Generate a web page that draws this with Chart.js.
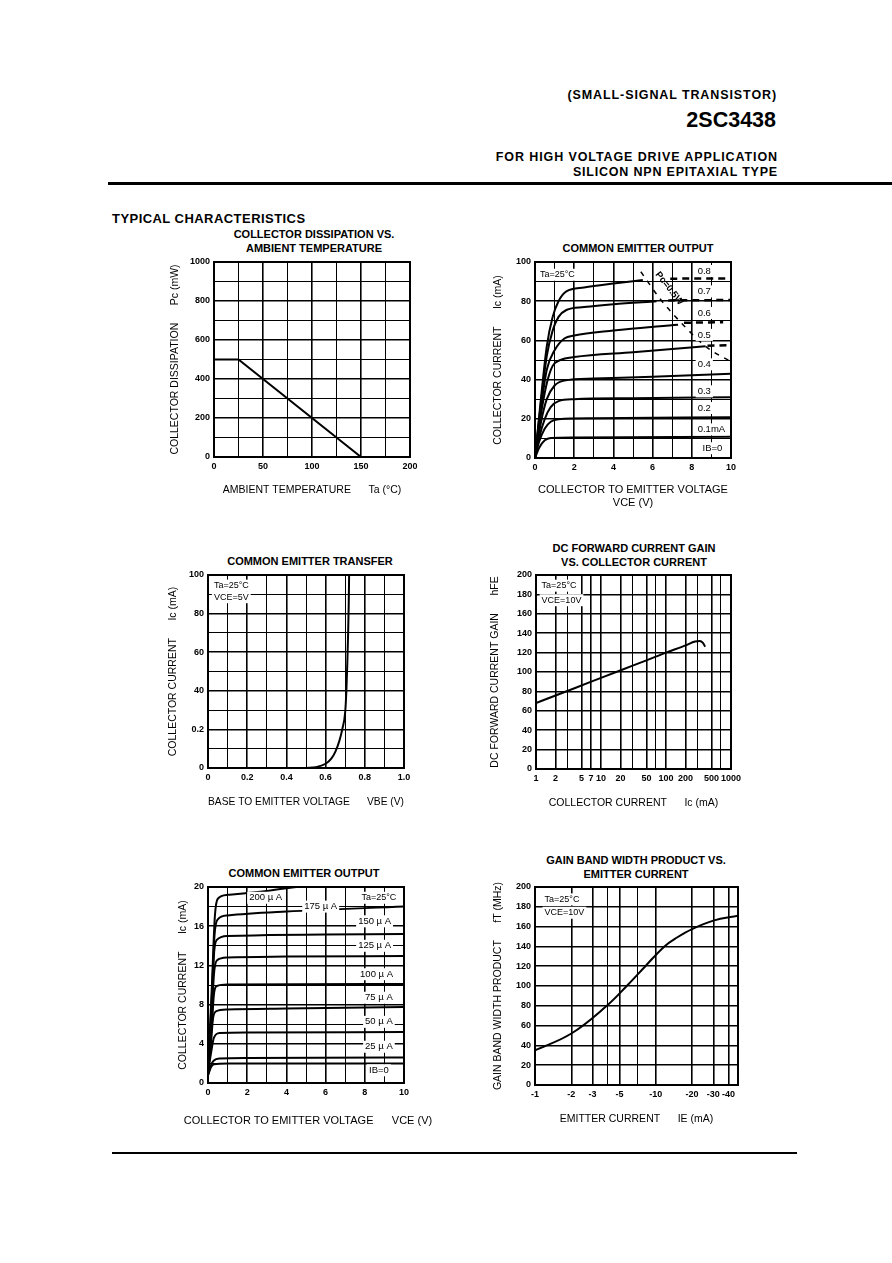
<!DOCTYPE html>
<html>
<head>
<meta charset="utf-8">
<script src="https://cdn.jsdelivr.net/npm/chart.js@4.4.1/dist/chart.umd.min.js"></script>
<style>
  body { margin: 0; background: #fff; width: 892px; height: 1263px; position: relative; overflow: hidden;
         font-family: "Liberation Sans", Arial, sans-serif; color: #000; }
  .t { position: absolute; white-space: pre; font-weight: bold; line-height: 1; }
  .c { text-align: center; width: 320px; }
  .n { font-weight: normal; }
  .rule { position: absolute; background: #000; }
  canvas { position: absolute; }
</style>
</head>
<body>
<div class="t" style="right:115px;top:89px;font-size:12.5px;letter-spacing:0.9px">(SMALL-SIGNAL TRANSISTOR)</div>
<div class="t" style="right:116px;top:110px;font-size:21.5px">2SC3438</div>
<div class="t" style="right:114px;top:151px;font-size:12.5px;letter-spacing:0.9px">FOR HIGH VOLTAGE DRIVE APPLICATION</div>
<div class="t" style="right:114px;top:166px;font-size:12.5px;letter-spacing:0.8px">SILICON NPN EPITAXIAL TYPE</div>
<div class="rule" style="left:108px;top:182px;width:784px;height:3px"></div>
<div class="t" style="left:112px;top:212px;font-size:13px;letter-spacing:0.45px">TYPICAL CHARACTERISTICS</div>

<div class="t c" style="left:154px;top:229px;font-size:11px">COLLECTOR DISSIPATION VS.</div>
<div class="t c" style="left:154px;top:243px;font-size:11px">AMBIENT TEMPERATURE</div>
<div class="t c" style="left:478px;top:243px;font-size:11px">COMMON EMITTER OUTPUT</div>
<div class="t c" style="left:150px;top:556px;font-size:11px">COMMON EMITTER TRANSFER</div>
<div class="t c" style="left:474px;top:543px;font-size:11px">DC FORWARD CURRENT GAIN</div>
<div class="t c" style="left:474px;top:557px;font-size:11px">VS. COLLECTOR CURRENT</div>
<div class="t c" style="left:144px;top:868px;font-size:11px">COMMON EMITTER OUTPUT</div>
<div class="t c" style="left:476px;top:855px;font-size:11px">GAIN BAND WIDTH PRODUCT VS.</div>
<div class="t c" style="left:476px;top:869px;font-size:11px">EMITTER CURRENT</div>

<canvas id="c1"></canvas>
<canvas id="c2"></canvas>
<canvas id="c3"></canvas>
<canvas id="c4"></canvas>
<canvas id="c5"></canvas>
<canvas id="c6"></canvas>

<div class="t c n" style="left:148px;top:1114.5px;font-size:11px">COLLECTOR TO EMITTER VOLTAGE      VCE (V)</div>

<div class="rule" style="left:112px;top:1152px;width:685px;height:2px"></div>

<script>
// --- collector dissipation vs ambient temperature
const ambTemp = [0, 25, 150];
const pcMax = [500, 500, 0];

// --- common emitter output, Ic (mA) vs Vce (V), one curve per IB
const ib01 = [[0, 0], [0.2, 5], [0.5, 9], [0.8, 10.2], [2, 10.5], [10, 10.8]];
const ib02 = [[0, 0], [0.2, 8], [0.5, 15], [0.8, 18.5], [1.2, 19.8], [3, 20.3], [10, 20.8]];
const ib03 = [[0, 0], [0.2, 10], [0.5, 20], [0.8, 26], [1.2, 29], [2, 30], [5, 30.5], [10, 31]];
const ib04 = [[0, 0], [0.3, 18], [0.6, 30], [1, 37], [1.5, 39.5], [3, 40.5], [6, 41.5], [10, 43]];
const ib05 = [[0, 0], [0.3, 22], [0.6, 38], [0.9, 47], [1.3, 50], [2, 51.5], [5, 54], [8.7, 57]];
const ib06 = [[0, 0], [0.3, 25], [0.6, 45], [1, 55], [1.5, 61], [2, 62.5], [4, 65], [7.3, 68]];
const ib07 = [[0, 0], [0.3, 28], [0.6, 52], [0.9, 65], [1.2, 72], [1.6, 75.5], [2.5, 77], [4, 78.5], [6.2, 80]];
const ib08 = [[0, 0], [0.3, 30], [0.6, 57], [0.9, 72], [1.2, 80], [1.6, 85], [2.5, 87], [4, 89], [5.5, 90.8]];
const ibDash = [
  [[6.9, 91.5], [10, 91.6]],
  [[6.8, 80.4], [10, 80.6]],
  [[7.6, 69], [9.6, 69.3]],
  [[8.8, 57.3], [10, 57.6]]
];
const pcLimit = [[5.4, 95], [6.4, 81], [7.6, 67.5], [8.7, 57], [10, 49]];
const ibLabels = ['0.8', '0.7', '0.6', '0.5', '0.4', '0.3', '0.2', '0.1mA', 'IB=0'];
const ibLabelIc = [95.4, 85, 74, 62.8, 47.8, 34, 25.5, 14.6, 5];

// --- common emitter transfer
const vbe = [0.5, 0.55, 0.6, 0.63, 0.65, 0.67, 0.685, 0.7, 0.706, 0.711, 0.715, 0.718, 0.72];
const icTransfer = [0, 0.4, 2.2, 5, 8.5, 14, 20, 29, 40, 55, 70, 85, 100];

// --- DC current gain vs collector current
const hfeIc = [1, 2, 4, 10, 30, 50, 100, 200, 280, 330, 370, 400];
const hfe = [68, 75.8, 83.5, 94, 106.3, 112, 120, 127.5, 131.5, 132, 130, 126];
const hfeGrid = [1, 2, 3, 5, 7, 10, 20, 30, 50, 70, 100, 200, 300, 500, 700, 1000];
const hfeTickLabels = [1, 2, 5, 7, 10, 20, 50, 100, 200, 500, 1000];

// --- common emitter output, low current
const uA0 = [[0, 0.8], [0.15, 1.6], [0.3, 1.9], [1, 2.0], [10, 2.0]];
const uA25 = [[0, 0.8], [0.15, 1.8], [0.3, 2.3], [0.6, 2.5], [2, 2.55], [10, 2.6]];
const uA50 = [[0, 1], [0.15, 3], [0.3, 4.6], [0.6, 5.1], [2, 5.15], [10, 5.2]];
const uA75 = [[0, 1], [0.15, 4], [0.25, 6.5], [0.4, 7.3], [1, 7.5], [4, 7.6], [10, 7.75]];
const uA100 = [[0, 1], [0.2, 6], [0.3, 9], [0.45, 9.9], [1, 10.05], [10, 10.1]];
const uA125 = [[0, 1], [0.2, 7], [0.3, 11], [0.45, 12.5], [1, 12.8], [4, 12.9], [10, 12.95]];
const uA150 = [[0, 1], [0.2, 8], [0.3, 13], [0.45, 14.6], [1, 15], [10, 15.2]];
const uA175 = [[0, 1], [0.2, 9], [0.33, 15], [0.5, 16.7], [1, 17.1], [4, 17.5], [10, 18]];
const uA200 = [[0, 1], [0.2, 10], [0.35, 17], [0.5, 18.8], [1, 19.2], [3, 19.6], [4.5, 20]];

// --- gain bandwidth product vs emitter current (|IE| in mA)
const ieAbs = [1, 2, 3.93, 5.75, 8.2, 11.8, 15, 20, 30, 48];
const ft = [35, 52, 80, 100, 120, 140, 149, 157.5, 166, 171];
const ieGrid = [1, 2, 3, 4, 5, 7, 10, 20, 30, 40, 48];
const ieTickLabels = [1, 2, 3, 5, 10, 20, 30, 40];

const FONT = "'Liberation Sans', Arial, sans-serif";
Chart.defaults.font.family = FONT;
Chart.defaults.color = '#000';
Chart.defaults.animation = false;

// black outline round the plot area
const frame = {
  id: 'frame',
  afterDraw(chart) {
    const { ctx, chartArea: a } = chart;
    ctx.save();
    ctx.strokeStyle = '#000';
    ctx.lineWidth = 2;
    ctx.strokeRect(a.left, a.top, a.right - a.left, a.bottom - a.top);
    ctx.restore();
  }
};

// text notes placed in data units
const notes = {
  id: 'notes',
  afterDatasetsDraw(chart, args, opts) {
    const items = opts.items || [];
    const { ctx, scales: { x, y } } = chart;
    items.forEach(n => {
      const px = x.getPixelForValue(n.x);
      const py = y.getPixelForValue(n.y);
      ctx.save();
      ctx.font = `${n.bold ? 'bold ' : ''}${n.size || 9.5}px ${FONT}`;
      ctx.textBaseline = 'middle';
      ctx.textAlign = n.align || 'left';
      ctx.translate(px, py);
      if (n.rot) ctx.rotate(n.rot * Math.PI / 180);
      if (n.box) {
        const w = ctx.measureText(n.text).width;
        const x0 = ctx.textAlign === 'left' ? -2 : -w / 2 - 2;
        ctx.fillStyle = '#fff';
        ctx.fillRect(x0, -6, w + 4, 12);
      }
      ctx.fillStyle = '#000';
      ctx.fillText(n.text, 0, 0);
      ctx.restore();
    });
  }
};
Chart.register(frame, notes);

const gridLine = {
  color: '#000',
  drawTicks: false,
  lineWidth: c => (c.tick && c.tick.label !== '' ? 1.6 : 1)
};
const tickFont = { size: 9, weight: 'bold' };
const titleFont = { size: 10.5, lineHeight: 1.25 };

function axis(opts, title) {
  return Object.assign({
    grid: gridLine,
    border: { display: true, color: '#000', width: 2 },
    ticks: { font: tickFont, padding: 4, autoSkip: false, maxRotation: 0 },
    title: { display: !!title, text: title, font: titleFont, padding: 0 }
  }, opts);
}

function line(points, extra) {
  return Object.assign({
    data: points.map(p => ({ x: p[0], y: p[1] })),
    borderColor: '#000',
    borderWidth: 2,
    pointRadius: 0,
    cubicInterpolationMode: 'monotone',
    fill: false
  }, extra);
}

// fix the plot rectangle on the page; axis titles sit at the canvas edges
function place(id, box, config) {
  const off = 6.5;
  const left = Math.round(box.yTitleX - off);
  const top = box.t - 12;
  const bottom = Math.round(box.xTitleY + off);
  const right = box.r + 24;
  const cv = document.getElementById(id);
  cv.width = right - left;
  cv.height = bottom - top;
  cv.style.left = left + 'px';
  cv.style.top = top + 'px';
  const lw = box.l - left;
  const bh = bottom - box.b;
  config.options.scales.x.afterFit = s => { s.height = bh; };
  config.options.scales.y.afterFit = s => { s.width = lw; };
  config.options.layout = { padding: { top: 12, right: 24, left: 0, bottom: 0 } };
  config.options.responsive = false;
  config.options.plugins = Object.assign({ legend: { display: false }, tooltip: { enabled: false } }, config.options.plugins);
  return new Chart(cv, config);
}

// 1. collector dissipation
place('c1', { l: 214, t: 262, r: 410, b: 457, yTitleX: 175, xTitleY: 490 }, {
  type: 'line',
  data: { datasets: [line(ambTemp.map((t, i) => [t, pcMax[i]]), { cubicInterpolationMode: 'default', tension: 0 })] },
  options: {
    scales: {
      x: axis({ type: 'linear', min: 0, max: 200,
        ticks: { font: tickFont, padding: 4, autoSkip: false, maxRotation: 0, stepSize: 25,
          callback: v => (v % 50 === 0 ? String(v) : '') } }, 'AMBIENT TEMPERATURE      Ta (\u00B0C)'),
      y: axis({ min: 0, max: 1000,
        ticks: { font: tickFont, padding: 4, autoSkip: false, stepSize: 100,
          callback: v => (v % 200 === 0 ? String(v) : '') } }, 'COLLECTOR DISSIPATION      Pc (mW)')
    }
  }
});

// 2. common emitter output
const ibCurves = [ib01, ib02, ib03, ib04, ib05, ib06, ib07, ib08];
const ibNotes = ibLabels.map((t, i) => ({ x: t === 'IB=0' ? 8.55 : 8.3, y: ibLabelIc[i], text: t, box: true, size: 9.5 }));
place('c2', { l: 535, t: 262, r: 731, b: 458, yTitleX: 498, xTitleY: 503 }, {
  type: 'line',
  data: {
    datasets: [
      ...ibCurves.map(c => line(c)),
      ...ibDash.map(c => line(c, { borderDash: [7, 5], borderWidth: 2.5 })),
      line(pcLimit, { borderDash: [5, 6], borderWidth: 1.5 })
    ]
  },
  options: {
    scales: {
      x: axis({ type: 'linear', min: 0, max: 10,
        title: { display: true, text: ['COLLECTOR TO EMITTER VOLTAGE', 'VCE (V)'], font: { size: 11, lineHeight: 1.2 }, padding: 0 },
        ticks: { font: tickFont, padding: 4, autoSkip: false, maxRotation: 0, stepSize: 1,
          callback: v => (v % 2 === 0 ? String(v) : '') } }),
      y: axis({ min: 0, max: 100,
        ticks: { font: tickFont, padding: 4, autoSkip: false, stepSize: 10,
          callback: v => (v % 20 === 0 ? String(v) : '') } }, 'COLLECTOR CURRENT      Ic (mA)')
    },
    plugins: {
      notes: { items: [
        { x: 0.25, y: 93.5, text: 'Ta=25\u00B0C', box: true, size: 9 },
        { x: 6.85, y: 86.5, text: 'Pc=0.5W', rot: 52, align: 'center', size: 9.5, bold: true },
        ...ibNotes
      ] }
    }
  }
});

// 3. common emitter transfer
place('c3', { l: 208, t: 575, r: 404, b: 768, yTitleX: 173, xTitleY: 802 }, {
  type: 'line',
  data: { datasets: [line(vbe.map((v, i) => [v, icTransfer[i]]))] },
  options: {
    scales: {
      x: axis({ type: 'linear', min: 0, max: 1,
        ticks: { font: tickFont, padding: 4, autoSkip: false, maxRotation: 0, stepSize: 0.1,
          callback: v => {
            const k = Math.round(v * 10);
            if (k % 2) return '';
            return k === 0 ? '0' : (k / 10).toFixed(1);
          } } }, 'BASE TO EMITTER VOLTAGE      VBE (V)'),
      y: axis({ min: 0, max: 100,
        ticks: { font: tickFont, padding: 4, autoSkip: false, stepSize: 10,
          callback: v => (v % 20 ? '' : (v === 20 ? '0.2' : String(v))) } }, 'COLLECTOR CURRENT      Ic (mA)')
    },
    plugins: {
      notes: { items: [
        { x: 0.03, y: 94.5, text: 'Ta=25\u00B0C', box: true, size: 9 },
        { x: 0.03, y: 88.5, text: 'VCE=5V', box: true, size: 9 }
      ] }
    }
  }
});

// 4. DC forward current gain
place('c4', { l: 536, t: 575, r: 731, b: 769, yTitleX: 495, xTitleY: 803 }, {
  type: 'line',
  data: { datasets: [line(hfeIc.map((v, i) => [v, hfe[i]]))] },
  options: {
    scales: {
      x: axis({ type: 'logarithmic', min: 1, max: 1000,
        afterBuildTicks: s => { s.ticks = hfeGrid.map(v => ({ value: v })); },
        ticks: { font: tickFont, padding: 4, autoSkip: false, maxRotation: 0,
          callback: v => (hfeTickLabels.includes(v) ? String(v) : '') } }, 'COLLECTOR CURRENT      Ic (mA)'),
      y: axis({ min: 0, max: 200,
        ticks: { font: tickFont, padding: 4, autoSkip: false, stepSize: 20 } }, 'DC FORWARD CURRENT GAIN      hFE')
    },
    plugins: {
      notes: { items: [
        { x: 1.22, y: 189, text: 'Ta=25\u00B0C', box: true, size: 9 },
        { x: 1.22, y: 174, text: 'VCE=10V', box: true, size: 9 }
      ] }
    }
  }
});

// 5. common emitter output (low current); x title is the HTML line under the canvas
const uaCurves = [uA0, uA25, uA50, uA75, uA100, uA125, uA150, uA175, uA200];
place('c5', { l: 208, t: 887, r: 404, b: 1083, yTitleX: 183, xTitleY: 1120 }, {
  type: 'line',
  data: { datasets: uaCurves.map(c => line(c)) },
  options: {
    scales: {
      x: axis({ type: 'linear', min: 0, max: 10,
        ticks: { font: tickFont, padding: 4, autoSkip: false, maxRotation: 0, stepSize: 1,
          callback: v => (v % 2 === 0 ? String(v) : '') } }, ''),
      y: axis({ min: 0, max: 20,
        ticks: { font: tickFont, padding: 4, autoSkip: false, stepSize: 2,
          callback: v => (v % 4 === 0 ? String(v) : '') } }, 'COLLECTOR CURRENT      Ic (mA)')
    },
    plugins: {
      notes: { items: [
        { x: 2.94, y: 18.9, text: '200 \u00B5 A', box: true, align: 'center' },
        { x: 5.75, y: 18.0, text: '175 \u00B5 A', box: true, align: 'center' },
        { x: 8.72, y: 18.9, text: 'Ta=25\u00B0C', box: true, align: 'center', size: 9 },
        { x: 8.5, y: 16.5, text: '150 \u00B5 A', box: true, align: 'center' },
        { x: 8.5, y: 14.0, text: '125 \u00B5 A', box: true, align: 'center' },
        { x: 8.6, y: 11.1, text: '100 \u00B5 A', box: true, align: 'center' },
        { x: 8.72, y: 8.7, text: '75 \u00B5 A', box: true, align: 'center' },
        { x: 8.72, y: 6.24, text: '50 \u00B5 A', box: true, align: 'center' },
        { x: 8.72, y: 3.7, text: '25 \u00B5 A', box: true, align: 'center' },
        { x: 8.72, y: 1.3, text: 'IB=0', box: true, align: 'center' }
      ] }
    }
  }
});

// 6. gain bandwidth product
place('c6', { l: 535, t: 887, r: 738, b: 1085, yTitleX: 498, xTitleY: 1119 }, {
  type: 'line',
  data: { datasets: [line(ieAbs.map((v, i) => [v, ft[i]]), { cubicInterpolationMode: 'default', tension: 0.4 })] },
  options: {
    scales: {
      x: axis({ type: 'logarithmic', min: 1, max: 48,
        afterBuildTicks: s => { s.ticks = ieGrid.map(v => ({ value: v })); },
        ticks: { font: tickFont, padding: 4, autoSkip: false, maxRotation: 0,
          callback: v => (ieTickLabels.includes(v) ? '-' + v : '') } }, 'EMITTER CURRENT      IE (mA)'),
      y: axis({ min: 0, max: 200,
        ticks: { font: tickFont, padding: 4, autoSkip: false, stepSize: 20 } }, 'GAIN BAND WIDTH PRODUCT      fT (MHz)')
    },
    plugins: {
      notes: { items: [
        { x: 1.2, y: 187.5, text: 'Ta=25\u00B0C', box: true, size: 9 },
        { x: 1.2, y: 174, text: 'VCE=10V', box: true, size: 9 }
      ] }
    }
  }
});
</script>
</body>
</html>
